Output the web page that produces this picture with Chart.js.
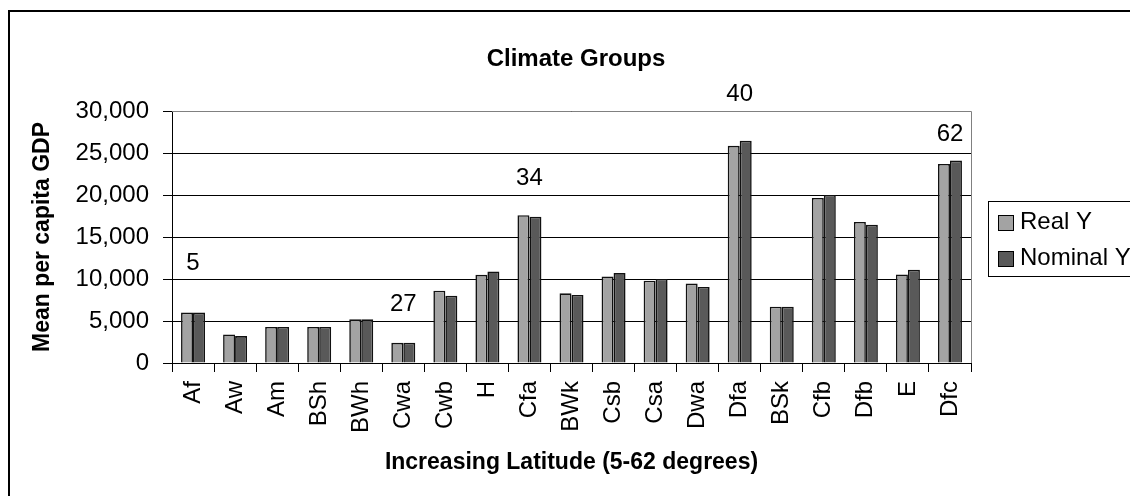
<!DOCTYPE html>
<html>
<head>
<meta charset="utf-8">
<script src="https://cdn.jsdelivr.net/npm/chart.js@4/dist/chart.umd.min.js"></script>
<style>
  body { margin: 0; background: #fff; }
  canvas { display: block; }
</style>
</head>
<body>
<canvas id="climateChart" width="1130" height="496"></canvas>
<script>
// climate groups ordered by latitude
const climateGroups = ["Af", "Aw", "Am", "BSh", "BWh", "Cwa", "Cwb", "H", "Cfa", "BWk",
  "Csb", "Csa", "Dwa", "Dfa", "BSk", "Cfb", "Dfb", "E", "Dfc"];
const realY = [6000, 3400, 4300, 4300, 5200, 2400, 8600, 10500, 17600, 8300,
  10300, 9800, 9450, 25850, 6700, 19650, 16800, 10550, 23700];
const nominalY = [6000, 3200, 4300, 4300, 5200, 2400, 8000, 10900, 17400, 8100,
  10700, 10000, 9050, 26450, 6700, 20000, 16450, 11100, 24100];
const yTicks = [0, 5000, 10000, 15000, 20000, 25000, 30000];

// latitude notes written over some groups
const noteGroups = ["Af", "Cwa", "Cfa", "Dfa", "Dfc"];
const noteLatitudes = [5, 27, 34, 40, 62];

const chartTitle = "Climate Groups";

Chart.defaults.font.family = "'Liberation Sans', Arial, sans-serif";
Chart.defaults.color = "#000";

const chartBorder = {
  id: "chartBorder",
  beforeDraw(chart) {
    const ctx = chart.ctx;
    ctx.save();
    ctx.strokeStyle = "#000";
    ctx.lineWidth = 2;
    ctx.strokeRect(9, 11, 1200, 600);
    ctx.restore();
  },
  afterDraw(chart, args, opts) {
    // title is centred over the whole chart, legend included
    const ctx = chart.ctx;
    ctx.save();
    ctx.fillStyle = "#000";
    ctx.font = "bold 24px 'Liberation Sans', Arial, sans-serif";
    ctx.textAlign = "center";
    ctx.textBaseline = "middle";
    ctx.fillText(chartTitle, opts.titleX, opts.titleY);
    ctx.restore();
  },
};

const plotBorder = {
  id: "plotBorder",
  beforeDatasetsDraw(chart) {
    const { ctx, chartArea: a } = chart;
    ctx.save();
    ctx.strokeStyle = "#808080";
    ctx.lineWidth = 1;
    ctx.beginPath();
    ctx.moveTo(a.left, Math.round(a.top) + 0.5);
    ctx.lineTo(Math.round(a.right) + 0.5, Math.round(a.top) + 0.5);
    ctx.lineTo(Math.round(a.right) + 0.5, a.bottom);
    ctx.stroke();
    ctx.restore();
  },
};

const latitudeNotes = {
  id: "latitudeNotes",
  afterDraw(chart, args, opts) {
    const { ctx, scales } = chart;
    ctx.save();
    ctx.fillStyle = "#000";
    ctx.font = "24px 'Liberation Sans', Arial, sans-serif";
    ctx.textAlign = "center";
    ctx.textBaseline = "alphabetic";
    noteGroups.forEach((group, i) => {
      const x = scales.x.getPixelForValue(climateGroups.indexOf(group));
      const y = scales.y.getPixelForValue(opts.levels[i]) + 8;
      ctx.fillText(String(noteLatitudes[i]), x, y);
    });
    ctx.restore();
  },
};

const legendBox = {
  id: "legendBox",
  afterDraw(chart, args, opts) {
    const ctx = chart.ctx;
    ctx.save();
    ctx.strokeStyle = "#000";
    ctx.lineWidth = 1;
    ctx.strokeRect(opts.left + 0.5, opts.top + 0.5, 300, opts.height);
    ctx.font = "24px 'Liberation Sans', Arial, sans-serif";
    ctx.textBaseline = "middle";
    chart.data.datasets.forEach((ds, i) => {
      const cy = opts.top + opts.firstRow + i * opts.rowGap;
      ctx.fillStyle = ds.backgroundColor;
      ctx.fillRect(opts.left + 10, cy - 7, 15, 15);
      ctx.strokeRect(opts.left + 10.5, cy - 6.5, 15, 15);
      ctx.fillStyle = "#000";
      ctx.fillText(ds.label, opts.left + 32, cy);
    });
    ctx.restore();
  },
};

new Chart(document.getElementById("climateChart"), {
  type: "bar",
  data: {
    labels: climateGroups,
    datasets: [
      {
        label: "Real Y",
        data: realY,
        backgroundColor: "#a3a3a3",
        borderColor: "#111",
        borderWidth: 1.6,
      },
      {
        label: "Nominal Y",
        data: nominalY,
        backgroundColor: "#595959",
        borderColor: "#111",
        borderWidth: 1.6,
      },
    ],
  },
  options: {
    responsive: false,
    animation: false,
    datasets: { bar: { categoryPercentage: 0.57, barPercentage: 1.0 } },
    layout: { padding: { left: 9, right: 159, top: 111, bottom: 0 } },
    plugins: {
      legend: { display: false },
      tooltip: { enabled: false },
      title: { display: false },
      chartBorder: { titleX: 576, titleY: 59 },
      latitudeNotes: { levels: [12000, 7150, 22140, 32140, 27380] },
      legendBox: { left: 988, top: 201, height: 75, firstRow: 21, rowGap: 36 },
    },
    scales: {
      x: {
        grid: { offset: true, drawOnChartArea: false, tickLength: 9, color: "#000" },
        border: { color: "#000" },
        ticks: { font: { size: 24 }, minRotation: 90, maxRotation: 90, padding: 9, autoSkip: false },
        title: {
          display: true,
          text: "Increasing Latitude (5-62 degrees)",
          font: { size: 23, weight: "bold" },
          padding: { top: 0, bottom: 20 },
        },
        afterFit(scale) {
          scale.height = 133;
        },
      },
      y: {
        min: 0,
        max: 30000,
        afterBuildTicks(scale) {
          scale.ticks = yTicks.map((v) => ({ value: v }));
        },
        grid: { color: "#000", tickLength: 9 },
        border: { color: "#000" },
        ticks: {
          font: { size: 24 },
          padding: 14,
          callback: (v) => v.toLocaleString("en-US"),
        },
        title: {
          display: true,
          text: "Mean per capita GDP",
          font: { size: 23, weight: "bold" },
          padding: { top: 20, bottom: 0 },
        },
        afterFit(scale) {
          scale.width = 163;
        },
      },
    },
  },
  plugins: [chartBorder, plotBorder, latitudeNotes, legendBox],
});
</script>
</body>
</html>
